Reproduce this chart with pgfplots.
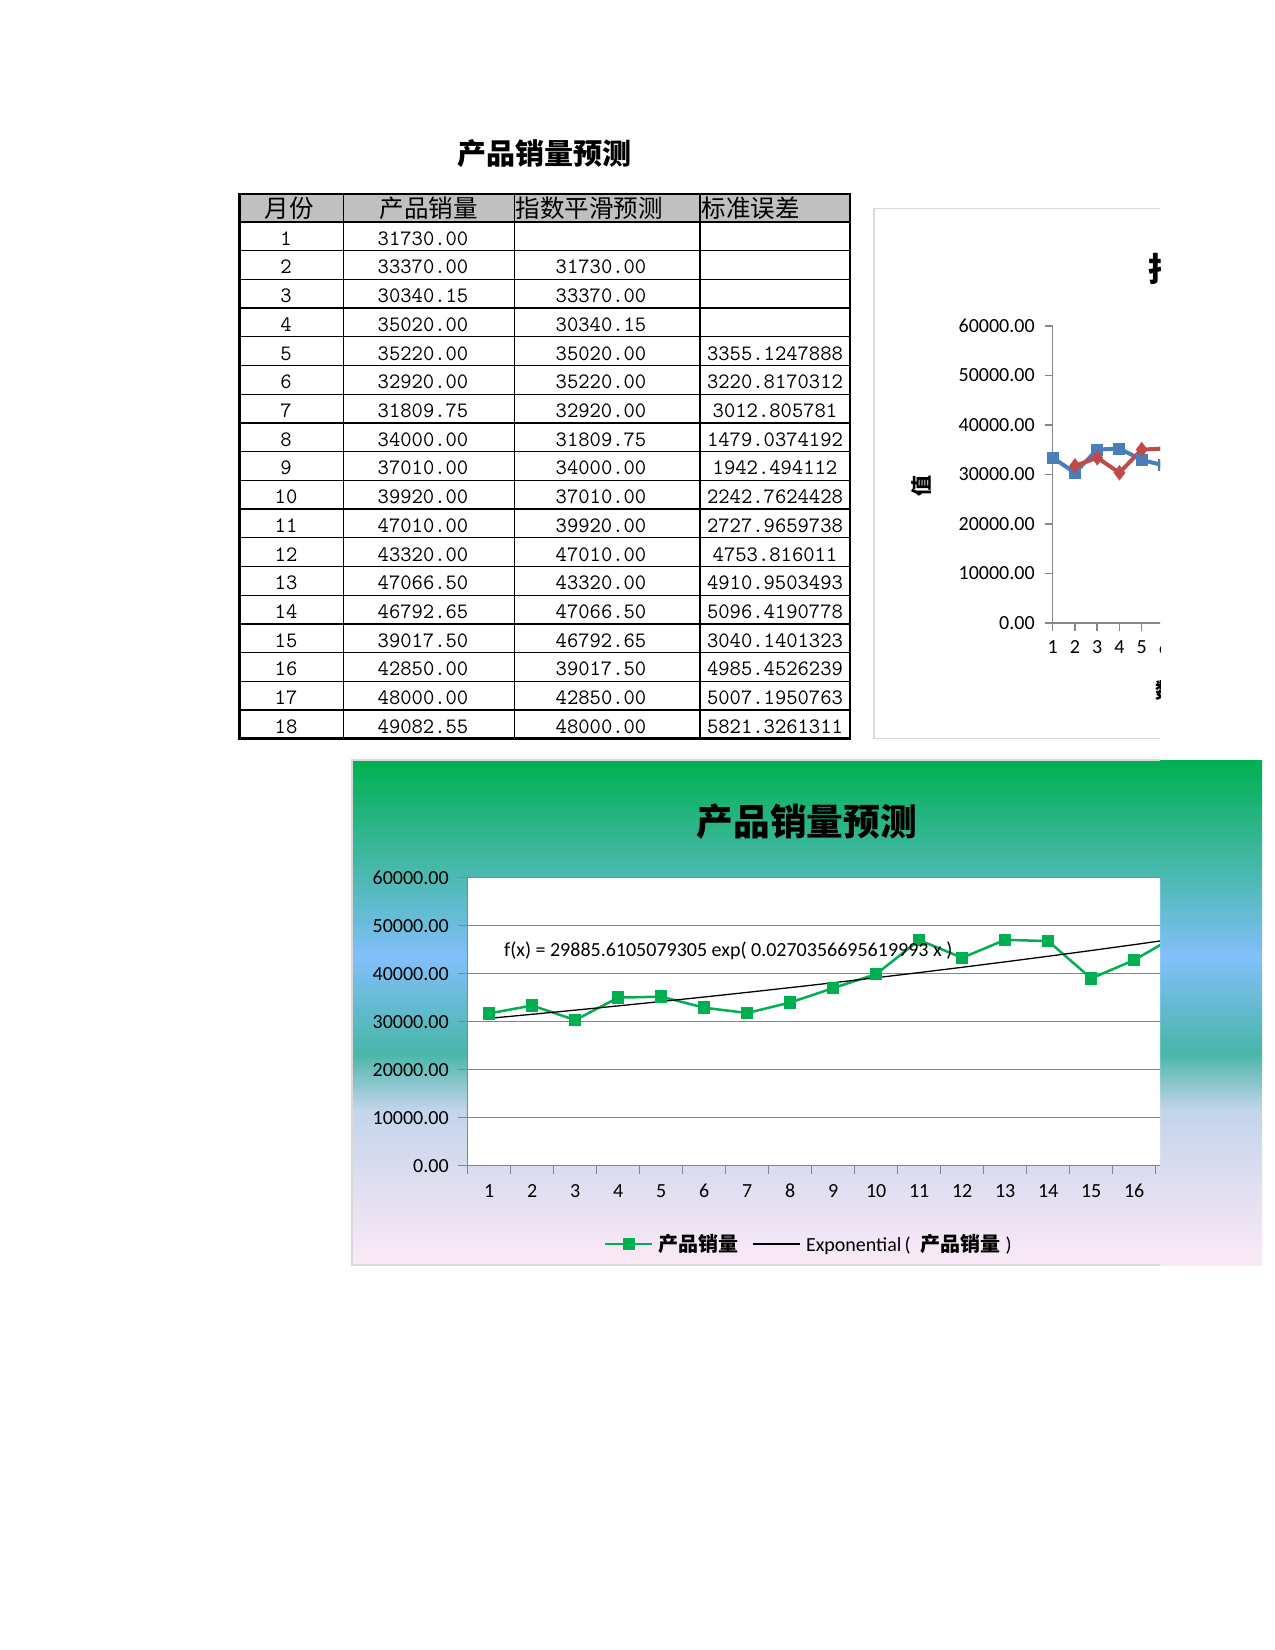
\documentclass[border=0pt]{standalone}
\usepackage{fontspec}
\setmainfont{Carlito}
\newfontfamily\cjk{Noto Sans CJK SC}
\usepackage{pgfplots}
\pgfplotsset{compat=1.18}
\definecolor{gridgrey}{HTML}{868686}
\definecolor{bordergrey}{HTML}{D9D9D9}
\definecolor{sgreen}{HTML}{00B050}
\definecolor{sblue}{HTML}{4A7EBB}
\definecolor{sred}{HTML}{BE4B48}
\definecolor{hdrgrey}{HTML}{C0C0C0}
\definecolor{bgA}{RGB}{252,233,248}
\definecolor{bgB}{RGB}{213,219,238}
\definecolor{bgC}{RGB}{195,212,235}
\definecolor{bgD}{RGB}{72,182,168}
\definecolor{bgE}{RGB}{130,191,250}
\definecolor{bgF}{RGB}{76,185,178}
\definecolor{bgG}{RGB}{0,176,80}
\pgfdeclareverticalshading{chartbg}{100bp}{color(0bp)=(bgA); color(25bp)=(bgA); color(35.7bp)=(bgB); color(40.35bp)=(bgC); color(46bp)=(bgD); color(55.5bp)=(bgE); color(63.5bp)=(bgF); color(75bp)=(bgG); color(100bp)=(bgG)}
\newcommand\tabnum{\ttfamily\fontsize{22}{24}\selectfont}
\newcommand\hdr{\cjk\fontsize{24.5}{26}\selectfont}
\begin{document}
\begin{tikzpicture}
\path[fill=white] (0pt,0pt) rectangle (1275pt,-1650pt);
% ---------- table ----------
\begin{scope}[x=1pt,y=-1pt]
\node[font=\cjk\bfseries\fontsize{29}{32}\selectfont] at (544,154) {产品销量预测};
\fill[hdrgrey] (239.3,194) rectangle (850,222);
\foreach \r in {1,...,17} \draw[line width=1.3pt] (239.3,{222+\r*28.71}) -- (850,{222+\r*28.71});
\draw[line width=2pt] (239.3,222) -- (850,222);
\foreach \xx in {343.3,514.4,700} \draw[line width=1.3pt] (\xx,194) -- (\xx,738.5);
\draw[line width=2.5pt] (239.3,194) rectangle (850,738.5);
\node[font=\hdr] at (289,208.5) {月份};
\node[font=\hdr] at (428.7,208.5) {产品销量};
\node[font=\hdr,anchor=west,inner sep=0pt] at (515.5,208.5) {指数平滑预测};
\node[font=\hdr,anchor=west,inner sep=0pt] at (701.7,208.5) {标准误差};
\foreach \ca/\cb/\cc/\cd [count=\r] in {
1/31730.00/{}/{},
2/33370.00/31730.00/{},
3/30340.15/33370.00/{},
4/35020.00/30340.15/{},
5/35220.00/35020.00/3355.1247888,
6/32920.00/35220.00/3220.8170312,
7/31809.75/32920.00/3012.805781,
8/34000.00/31809.75/1479.0374192,
9/37010.00/34000.00/1942.494112,
10/39920.00/37010.00/2242.7624428,
11/47010.00/39920.00/2727.9659738,
12/43320.00/47010.00/4753.816011,
13/47066.50/43320.00/4910.9503493,
14/46792.65/47066.50/5096.4190778,
15/39017.50/46792.65/3040.1401323,
16/42850.00/39017.50/4985.4526239,
17/48000.00/42850.00/5007.1950763,
18/49082.55/48000.00/5821.3261311}{
\node[font=\tabnum,anchor=base,inner sep=0pt] at (286,{222+\r*28.71-5.5}) {\ca};
\node[font=\tabnum,anchor=base,inner sep=0pt] at (423,{222+\r*28.71-5.5}) {\cb};
\node[font=\tabnum,anchor=base,inner sep=0pt] at (601,{222+\r*28.71-5.5}) {\cc};
\node[font=\tabnum,anchor=base,inner sep=0pt] at (775,{222+\r*28.71-5.5}) {\cd};
}
\end{scope}
% ---------- second (clipped) chart ----------
\begin{scope}
\clip (868pt,-200pt) rectangle (1160pt,-746pt);
\draw[bordergrey,line width=1.5pt] (1162pt,-208.3pt) -- (874pt,-208.3pt) -- (874pt,-738.5pt) -- (1162pt,-738.5pt);
\begin{axis}[at={(1052.7pt,-622.8pt)}, anchor=south west, scale only axis,
  width=378.25pt, height=296.8pt, xmin=1, xmax=18, ymin=0, ymax=60000,
  axis lines*=left, axis line style={gridgrey,line width=1.5pt,-},
  xtick={1,...,18}, ytick={0,10000,...,60000}, scaled y ticks=false,
  tick align=outside, major tick length=8pt, tick style={gridgrey,line width=1.5pt},
  tick label style={font=\fontsize{20}{24}\selectfont},
  /pgf/number format/assume math mode=true,
  yticklabel style={xshift=-6.5pt,/pgf/number format/.cd, fixed, fixed zerofill, precision=2, 1000 sep={}},
  xticklabel style={yshift=-6.5pt},
  clip=false]
\addplot[sblue, line width=4pt, mark=square*, mark size=4pt] coordinates {
(1,33370) (2,30340.15) (3,35020) (4,35220) (5,32920) (6,31809.75) (7,34000) (8,37010) (9,39920)
(10,47010) (11,43320) (12,47066.5) (13,46792.65) (14,39017.5) (15,42850) (16,48000) (17,49082.55)};
\addplot[sred, line width=4pt, mark=diamond*, mark size=4.5pt] coordinates {
(2,31730) (3,33370) (4,30340.15) (5,35020) (6,35220) (7,32920) (8,31809.75) (9,34000) (10,37010)
(11,39920) (12,47010) (13,43320) (14,47066.5) (15,46792.65) (16,39017.5) (17,42850) (18,48000)};
\end{axis}
\node[font=\cjk\bfseries\fontsize{33}{36}\selectfont,anchor=west,inner sep=0pt] at (1148.5pt,-269pt) {指数平滑};
\node[font=\cjk\bfseries\fontsize{21}{24}\selectfont,rotate=90] at (921.6pt,-486pt) {值};
\node[font=\cjk\bfseries\fontsize{21}{24}\selectfont,anchor=west,inner sep=0pt] at (1155pt,-691pt) {数据点};
\end{scope}
% ---------- main chart ----------
\shade[shading=chartbg] (352pt,-760pt) rectangle (1262pt,-1265pt);
\begin{scope}
\clip (345pt,-752pt) rectangle (1160pt,-1272pt);
\draw[bordergrey,line width=1.5pt] (1162pt,-760pt) -- (352pt,-760pt) -- (352pt,-1265pt) -- (1162pt,-1265pt);
\node[font=\cjk\bfseries\fontsize{36.7}{40}\selectfont] at (806.7pt,-821.7pt) {产品销量预测};
\begin{axis}[at={(467.7pt,-1165.7pt)}, anchor=south west, scale only axis,
  width=774pt, height=288pt, xmin=0.5, xmax=18.5, ymin=0, ymax=60000,
  axis background/.style={fill=white},
  axis lines*=left, axis line style={gridgrey,line width=1.5pt,-},
  ytick={0,10000,...,60000}, scaled y ticks=false, ymajorgrids,
  grid style={gridgrey,line width=1.5pt},
  xtick={1,...,18}, minor xtick={0.5,1.5,...,18.5},
  major x tick style={draw=none}, minor x tick style={gridgrey,line width=1.5pt},
  ytick style={gridgrey,line width=1.5pt},
  tick align=outside, major tick length=10pt, minor tick length=8pt,
  tick label style={font=\fontsize{20}{24}\selectfont},
  /pgf/number format/assume math mode=true,
  yticklabel style={xshift=-5.5pt,/pgf/number format/.cd, fixed, fixed zerofill, precision=2, 1000 sep={}},
  xticklabel style={yshift=-5pt},
  legend style={at={(0.1761,-0.2719)}, anchor=west, draw=none, fill=none,
    font=\fontsize{20}{24}\selectfont, legend columns=2, inner sep=0pt,
    /tikz/every even column/.append style={column sep=12pt}},
  legend cell align=left,
  legend image code/.code={\draw[mark repeat=2,mark phase=2,#1] plot coordinates {(0pt,0pt) (23.5pt,0pt) (47pt,0pt)};},
  clip=false]
\addplot[sgreen, line width=2.5pt, mark=square*, mark size=5pt] coordinates {
(1,31730) (2,33370) (3,30340.15) (4,35020) (5,35220) (6,32920) (7,31809.75) (8,34000) (9,37010)
(10,39920) (11,47010) (12,43320) (13,47066.5) (14,46792.65) (15,39017.5) (16,42850) (17,48000) (18,49082.55)};
\addlegendentry{\hspace{3pt}{\cjk\bfseries 产品销量}}
\addplot[black, line width=1.3pt] coordinates {
(1,30704.6) (2,31546.0) (3,32410.5) (4,33298.7) (5,34211.2) (6,35148.8) (7,36112.0) (8,37101.6) (9,38118.4)
(10,39163.0) (11,40236.3) (12,41339.0) (13,42471.8) (14,43635.7) (15,44831.5) (16,46060.1) (17,47322.4) (18,48619.3)};
\addlegendentry{\hspace{3pt}Exponential\hspace{3pt}(\hspace{10pt}{\cjk\bfseries 产品销量}\hspace{5pt})}
\end{axis}
\node[font=\fontsize{20}{24}\selectfont,anchor=base west,inner sep=0pt] at (504pt,-956.5pt) {f(x) = 29885.6105079305 exp( 0.0270356695619993 x )};
\end{scope}
\end{tikzpicture}
\end{document}
